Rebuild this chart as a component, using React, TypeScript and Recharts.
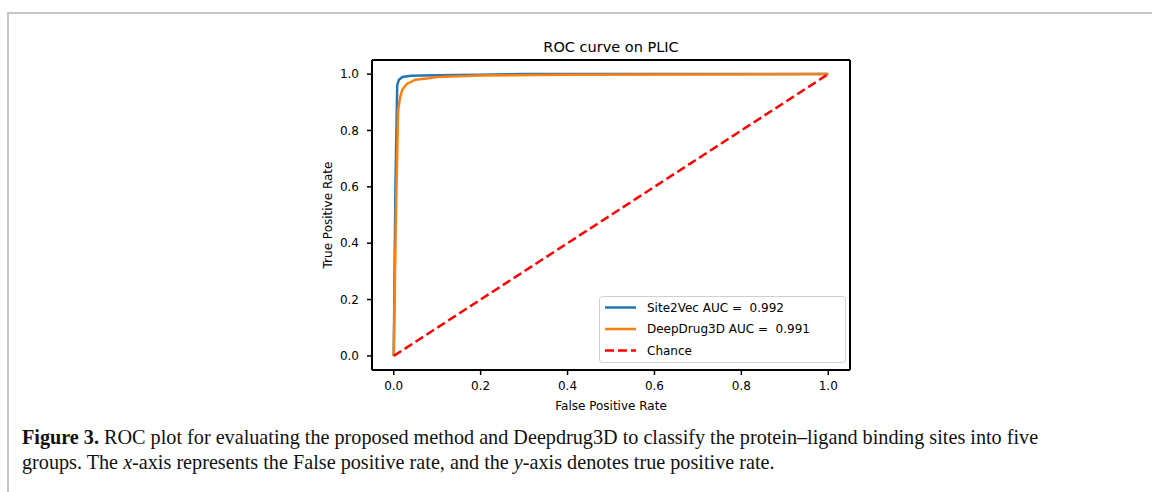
import { LineChart, Line, XAxis, YAxis, ReferenceLine } from "recharts"

// ROC points (FPR, TPR)
const site2vecFpr = [0, 0.004, 0.008, 0.012, 0.02, 0.04, 0.1, 0.2, 0.3, 0.6, 1]
const site2vecTpr = [0, 0.6, 0.96, 0.98, 0.99, 0.994, 0.996, 0.998, 1, 1, 1]

const deepDrugFpr = [0, 0.005, 0.01, 0.015, 0.02, 0.03, 0.05, 0.08, 0.1, 0.2, 0.4, 1]
const deepDrugTpr = [0, 0.5, 0.87, 0.92, 0.945, 0.965, 0.98, 0.985, 0.99, 0.995, 0.998, 1]

const chanceFpr = [0, 1]
const chanceTpr = [0, 1]

const tickValues = [0, 0.2, 0.4, 0.6, 0.8, 1]

const legendLabels = ["Site2Vec AUC =  0.992", "DeepDrug3D AUC =  0.991", "Chance"]

const toPoints = (xs: number[], ys: number[]) => xs.map((x, i) => ({ x, y: ys[i] }))

const site2vec = toPoints(site2vecFpr, site2vecTpr)
const deepDrug = toPoints(deepDrugFpr, deepDrugTpr)
const chance = toPoints(chanceFpr, chanceTpr)

const font = "'DejaVu Sans', sans-serif"

export default function App() {
  const tickStyle = { fill: "#000", fontSize: 12, fontFamily: font }
  return (
    <div style={{ position: "absolute", left: 0, top: 0, width: 1152, height: 492, background: "#fff", overflow: "hidden" }}>
      {/* page frame */}
      <div
        style={{
          position: "absolute",
          left: 7,
          top: 12,
          width: 1160,
          height: 500,
          borderTop: "2px solid #c8c8c8",
          borderLeft: "2px solid #c8c8c8",
        }}
      />
      <div style={{ position: "absolute", left: 0, top: 0 }}>
        <LineChart width={1152} height={492} margin={{ top: 60, right: 302, bottom: 92, left: 312 }}>
          <XAxis
            type="number"
            dataKey="x"
            domain={[-0.05, 1.05]}
            ticks={tickValues}
            tickFormatter={(v) => v.toFixed(1)}
            allowDataOverflow
            height={30}
            tick={tickStyle}
            tickSize={5}
            tickMargin={6}
            axisLine={{ stroke: "#000", strokeWidth: 2 }}
            tickLine={{ stroke: "#000", strokeWidth: 1.5 }}
          />
          <YAxis
            type="number"
            dataKey="y"
            domain={[-0.05, 1.05]}
            ticks={tickValues}
            tickFormatter={(v) => v.toFixed(1)}
            allowDataOverflow
            width={60}
            tick={tickStyle}
            tickSize={5}
            tickMargin={8}
            axisLine={{ stroke: "#000", strokeWidth: 2 }}
            tickLine={{ stroke: "#000", strokeWidth: 1.5 }}
          />
          <ReferenceLine y={1.05} stroke="#000" strokeWidth={2} ifOverflow="visible" />
          <ReferenceLine x={1.05} stroke="#000" strokeWidth={2} ifOverflow="visible" />
          <Line
            data={site2vec}
            dataKey="y"
            type="linear"
            stroke="#1f77b4"
            strokeWidth={2.5}
            dot={false}
            isAnimationActive={false}
          />
          <Line
            data={deepDrug}
            dataKey="y"
            type="linear"
            stroke="#ff7f0e"
            strokeWidth={2.5}
            dot={false}
            isAnimationActive={false}
          />
          <Line
            data={chance}
            dataKey="y"
            type="linear"
            stroke="#ff0000"
            strokeWidth={2.5}
            strokeDasharray="9 4"
            dot={false}
            isAnimationActive={false}
          />
        </LineChart>
      </div>
      {/* title, axis labels, legend */}
      <svg width={1152} height={492} style={{ position: "absolute", left: 0, top: 0, pointerEvents: "none" }}>
        <text x={611} y={51.5} textAnchor="middle" fontFamily={font} fontSize={14.5} fill="#000">
          ROC curve on PLIC
        </text>
        <text x={611} y={409.5} textAnchor="middle" fontFamily={font} fontSize={12} fill="#000">
          False Positive Rate
        </text>
        <text
          x={332.4}
          y={215}
          textAnchor="middle"
          fontFamily={font}
          fontSize={12}
          fill="#000"
          transform="rotate(-90 332.4 215)"
        >
          True Positive Rate
        </text>
        <rect x={599.5} y={296.5} width={246} height={66} rx={3} fill="rgba(255,255,255,0.8)" stroke="#d0d0d0" strokeWidth={1} />
        {legendLabels.map((label, i) => {
          const cy = 307.5 + i * 21.5
          const colors = ["#1f77b4", "#ff7f0e", "#ff0000"]
          return (
            <g key={label}>
              <line
                x1={605}
                x2={636}
                y1={cy}
                y2={cy}
                stroke={colors[i]}
                strokeWidth={2.5}
                strokeDasharray={i === 2 ? "9 4" : undefined}
              />
              <text x={647} y={cy + 4.4} fontFamily={font} fontSize={12} fill="#000" style={{ whiteSpace: "pre" }}>
                {label}
              </text>
            </g>
          )
        })}
      </svg>
      {/* caption */}
      <div
        style={{
          position: "absolute",
          left: 22,
          top: 424.5,
          fontFamily: "'Liberation Serif', serif",
          fontSize: 20.2,
          lineHeight: "25px",
          color: "#111",
          whiteSpace: "nowrap",
        }}
      >
        <b>Figure 3.</b> ROC plot for evaluating the proposed method and Deepdrug3D to classify the protein–ligand binding sites into five
        <br />
        groups. The <i>x</i>-axis represents the False positive rate, and the <i>y</i>-axis denotes true positive rate.
      </div>
    </div>
  )
}
